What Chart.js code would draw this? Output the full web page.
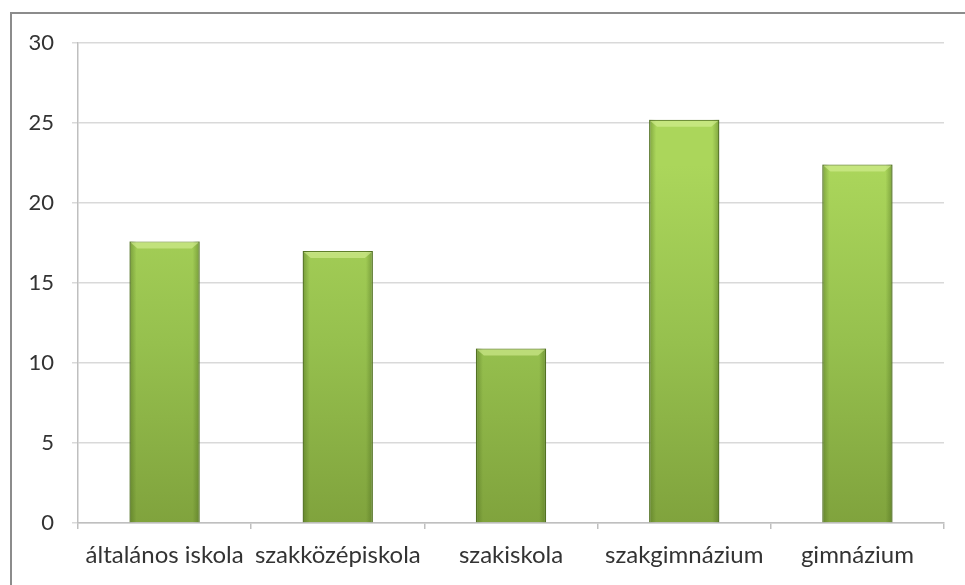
<!DOCTYPE html>
<html>
<head>
<meta charset="utf-8">
<script src="https://cdn.jsdelivr.net/npm/chart.js@4/dist/chart.umd.min.js"></script>
<style>
  html, body { margin: 0; padding: 0; background: #fff; overflow: hidden; }
  #wrap { position: relative; width: 965px; height: 585px; }
  #frame { position: absolute; left: 10px; top: 12px; width: 980px; height: 600px; border: 2px solid #8c8c8c; box-sizing: border-box; }
  canvas { position: absolute; left: 0; top: 0; }
</style>
</head>
<body>
<div id="wrap">
  <div id="frame"></div>
  <canvas id="chart" width="965" height="585"></canvas>
</div>
<script>
// Chart data
const categories = ['általános iskola', 'szakközépiskola', 'szakiskola', 'szakgimnázium', 'gimnázium'];
const values = [17.6, 17.0, 10.9, 25.2, 22.4];
const yTicks = [0, 5, 10, 15, 20, 25, 30];

// Give each bar its own vertical gradient + bevel look
const barShading = {
    id: 'barShading',
    beforeDatasetsDraw(chart) {
        const ctx = chart.ctx;
        chart.getDatasetMeta(0).data.forEach(bar => {
            const g = ctx.createLinearGradient(0, bar.y, 0, bar.base);
            g.addColorStop(0, '#abd65b');
            g.addColorStop(0.5, '#96c04e');
            g.addColorStop(1, '#80a33d');
            bar.options.backgroundColor = g;
        });
    },
    afterDatasetsDraw(chart) {
        const ctx = chart.ctx;
        chart.getDatasetMeta(0).data.forEach(bar => {
            const left = bar.x - bar.width / 2;
            const right = bar.x + bar.width / 2;
            ctx.save();
            // dark edges
            const h = ctx.createLinearGradient(left, 0, right, 0);
            h.addColorStop(0, 'rgba(60,90,20,0.4)');
            h.addColorStop(0.1, 'rgba(60,90,20,0)');
            h.addColorStop(0.9, 'rgba(60,90,20,0)');
            h.addColorStop(1, 'rgba(60,90,20,0.4)');
            ctx.fillStyle = h;
            ctx.fillRect(left, bar.y, bar.width, bar.base - bar.y);
            // top bevel
            ctx.fillStyle = 'rgba(215,240,150,0.6)';
            ctx.beginPath();
            ctx.moveTo(left + 1, bar.y + 1);
            ctx.lineTo(right - 1, bar.y + 1);
            ctx.lineTo(right - 8, bar.y + 7);
            ctx.lineTo(left + 8, bar.y + 7);
            ctx.closePath();
            ctx.fill();
            ctx.restore();
        });
    }
};

const fontFamily = 'Lato, "Open Sans", sans-serif';

new Chart(document.getElementById('chart'), {
    type: 'bar',
    data: {
        labels: categories,
        datasets: [{
            data: values,
            backgroundColor: '#96c04e',
            borderColor: '#5f7f2a',
            borderWidth: 1.2,
            categoryPercentage: 1,
            barPercentage: 0.405
        }]
    },
    options: {
        responsive: false,
        animation: false,
        layout: { padding: { left: 0, top: 43, right: 21, bottom: 0 } },
        plugins: {
            legend: { display: false },
            tooltip: { enabled: false }
        },
        scales: {
            x: {
                afterFit(scale) { scale.height = 62; },
                border: { color: '#bfbfbf', width: 1.5 },
                grid: { offset: true, drawOnChartArea: false, tickLength: 6, color: '#bfbfbf', lineWidth: 1.5 },
                ticks: {
                    autoSkip: false,
                    maxRotation: 0,
                    padding: 12,
                    color: '#333333',
                    font: { family: fontFamily, size: 24 }
                }
            },
            y: {
                min: 0,
                max: 30,
                afterFit(scale) { scale.width = 78; },
                afterBuildTicks(scale) { scale.ticks = yTicks.map(v => ({ value: v })); },
                border: { color: '#bfbfbf', width: 1.5 },
                grid: { color: '#d9d9d9', lineWidth: 1.5, tickLength: 6 },
                ticks: {
                    padding: 18,
                    color: '#333333',
                    font: { family: fontFamily, size: 22 }
                }
            }
        }
    },
    plugins: [barShading]
});
</script>
</body>
</html>
